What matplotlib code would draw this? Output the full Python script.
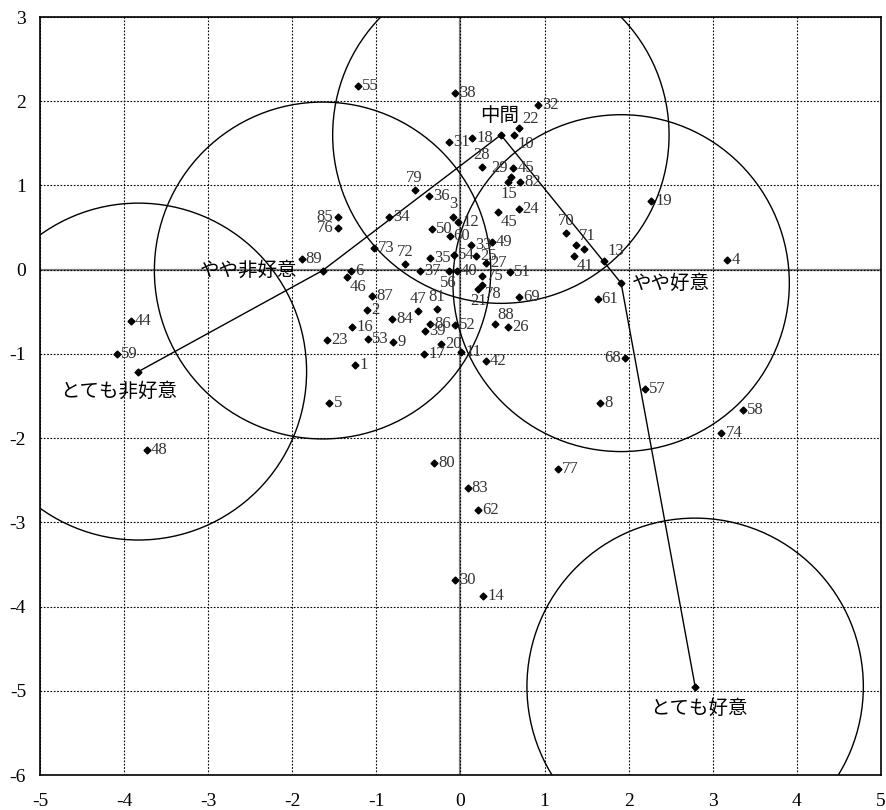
import matplotlib
matplotlib.use("Agg")
import matplotlib.pyplot as plt
from matplotlib.patches import Circle
import numpy as np

plt.rcParams["axes.unicode_minus"] = False

# respondent points (id, x, y)
point_ids = ["85", "76", "89", "34", "79", "36", "3", "12", "50", "60",
             "73", "72", "35", "54", "37", "56", "40", "6", "46", "87",
             "2", "47", "81", "84", "16", "86", "52", "39", "23", "53",
             "9", "20", "11", "17", "42", "1", "5", "69", "88", "26",
             "21", "78", "75", "24", "45", "33", "49", "25", "27", "51",
             "38", "32", "22", "10", "18", "31", "28", "45", "29", "15",
             "82", "19", "70", "71", "", "41", "13", "4", "61", "68",
             "57", "8", "58", "74", "44", "59", "48", "80", "77", "83",
             "62", "30", "14", "55"]
point_x = [-1.46, -1.46, -1.89, -0.85, -0.545, -0.37, -0.09, -0.03, -0.34, -0.13,
           -1.03, -0.66, -0.36, -0.08, -0.48, -0.14, -0.045, -1.30, -1.35, -1.05,
           -1.11, -0.50, -0.28, -0.81, -1.29, -0.36, -0.065, -0.42, -1.59, -1.10,
           -0.80, -0.23, 0.006, -0.43, 0.30, -1.25, -1.56, 0.70, 0.41, 0.57,
           0.21, 0.26, 0.26, 0.69, 0.45, 0.12, 0.37, 0.19, 0.30, 0.59,
           -0.07, 0.92, 0.70, 0.64, 0.14, -0.14, 0.25, 0.63, 0.60, 0.57,
           0.71, 2.27, 1.26, 1.37, 1.47, 1.35, 1.71, 3.17, 1.63, 1.96,
           2.19, 1.66, 3.36, 3.10, -3.92, -4.09, -3.73, -0.31, 1.16, 0.085,
           0.21, -0.06, 0.27, -1.22]
point_y = [0.62, 0.50, 0.13, 0.62, 0.94, 0.87, 0.63, 0.57, 0.48, 0.40,
           0.26, 0.07, 0.14, 0.18, -0.01, -0.01, -0.01, -0.02, -0.09, -0.31,
           -0.48, -0.49, -0.47, -0.59, -0.68, -0.64, -0.66, -0.73, -0.84, -0.82,
           -0.86, -0.88, -0.975, -1.00, -1.08, -1.13, -1.58, -0.33, -0.65, -0.68,
           -0.23, -0.18, -0.08, 0.72, 0.68, 0.29, 0.33, 0.165, 0.08, -0.03,
           2.10, 1.95, 1.68, 1.60, 1.56, 1.52, 1.22, 1.21, 1.10, 1.04,
           1.04, 0.81, 0.43, 0.29, 0.24, 0.16, 0.105, 0.12, -0.35, -1.05,
           -1.42, -1.58, -1.67, -1.94, -0.61, -1.00, -2.14, -2.29, -2.37, -2.59,
           -2.85, -3.68, -3.88, 2.18]

# label placement for crowded points (index -> side), default is right
label_side = {0: "l", 1: "l", 4: "a", 6: "a", 11: "a", 15: "b", 18: "br",
              21: "a", 22: "a", 38: "ar", 40: "b", 41: "br", 44: "br",
              52: "ar", 53: "br", 56: "a", 58: "al", 59: "b", 62: "a",
              63: "ar", 65: "br", 66: "ar", 69: "l"}

# category positions
cat_names = ["とても非好意", "やや非好意", "中間", "やや好意", "とても好意"]
cat_x = [-3.83, -1.64, 0.48, 1.91, 2.79]
cat_y = [-1.21, -0.01, 1.60, -0.16, -4.95]
cat_offsets = [(-14, -14), (-18, 0), (-1, 14), (8, 0), (3, -16)]
cat_ha = ["center", "right", "center", "left", "center"]
radius = 2.0

side_fmt = {
    "r": ((3, 0), "left", "center"),
    "l": ((-3, 0), "right", "center"),
    "a": ((0, 3), "center", "bottom"),
    "ar": ((2, 1), "left", "bottom"),
    "al": ((-2, 1), "right", "bottom"),
    "b": ((0, -3), "center", "top"),
    "br": ((2, -1), "left", "top"),
}

fig = plt.figure(figsize=(8.87, 8.10), dpi=100)
ax = fig.add_axes([40 / 887, 1 - 775 / 810, 841 / 887, 758 / 810])

ax.set_xlim(-5, 5)
ax.set_ylim(-6, 3)
ax.set_xticks(np.arange(-5, 6))
ax.set_yticks(np.arange(-6, 4))
ax.grid(True, linestyle=(0, (1.5, 1.5)), color="black", lw=0.8)
ax.axhline(0, color="#808080", lw=1.6, zorder=1.5)
ax.axvline(0, color="#808080", lw=1.6, zorder=1.5)
ax.tick_params(length=0, labelsize=14, pad=10)
for lab in ax.get_xticklabels() + ax.get_yticklabels():
    lab.set_fontfamily("Liberation Serif")
ax.tick_params(axis="x", pad=13)
for sp in ax.spines.values():
    sp.set_linewidth(1.2)

# circles around the categories
for cx, cy in zip(cat_x, cat_y):
    ax.add_patch(Circle((cx, cy), radius, fill=False, ec="black", lw=1.0, zorder=2))

ax.plot(cat_x, cat_y, color="black", lw=1.0, marker="D", ms=3.5, zorder=3)
for i, name in enumerate(cat_names):
    ax.annotate(name, (cat_x[i], cat_y[i]), xytext=cat_offsets[i],
                textcoords="offset points", ha=cat_ha[i], va="center",
                fontsize=14, family=["Noto Sans CJK JP", "DejaVu Sans"], zorder=4)

ax.plot(point_x, point_y, ls="none", marker="D", ms=3.5, color="black", zorder=3)
for i, pid in enumerate(point_ids):
    if not pid:
        continue
    off, ha, va = side_fmt[label_side.get(i, "r")]
    ax.annotate(pid, (point_x[i], point_y[i]), xytext=off, textcoords="offset points",
                ha=ha, va=va, fontsize=12, family="Liberation Serif", color="#333333",
                zorder=4)

fig.savefig("out.png", dpi=100)
